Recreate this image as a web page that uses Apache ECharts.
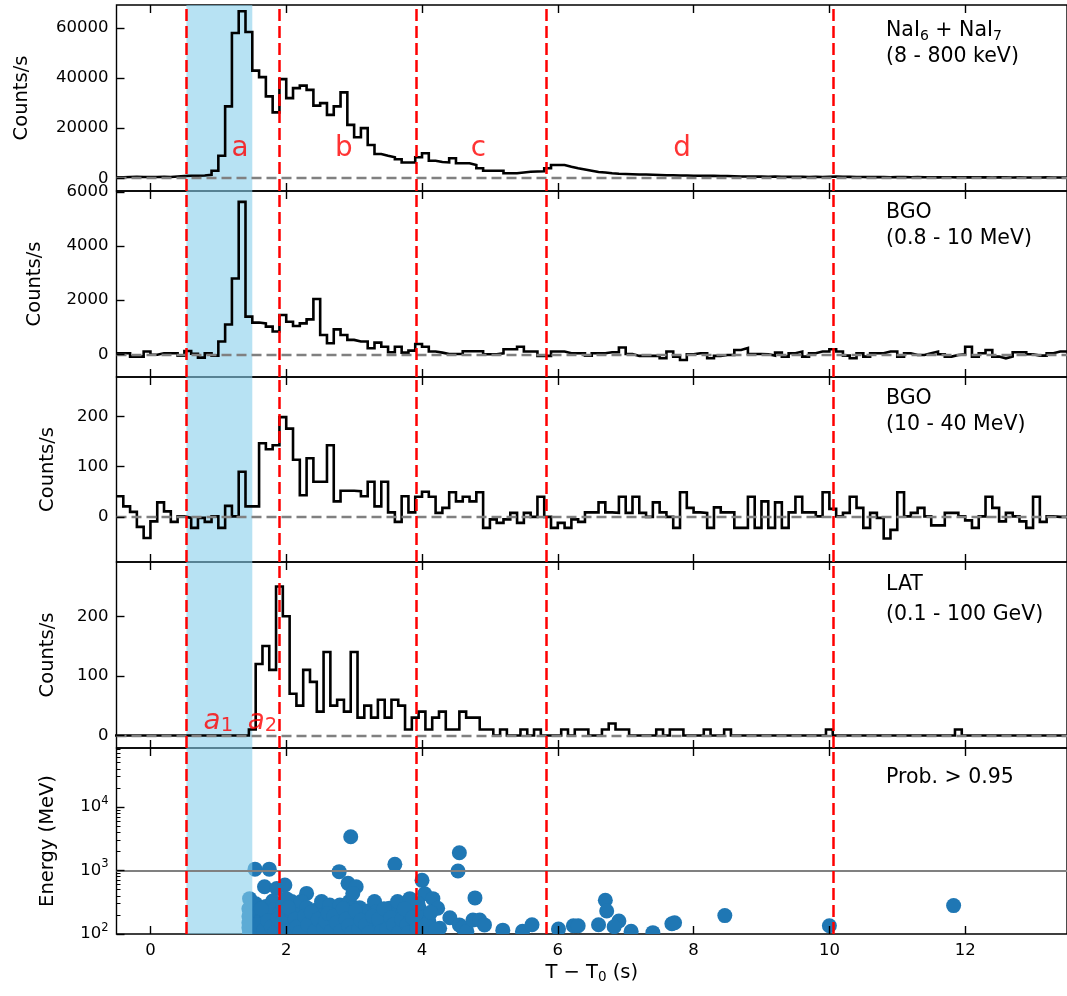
<!DOCTYPE html>
<html><head><meta charset="utf-8">
<script src="https://cdn.jsdelivr.net/npm/echarts@6/dist/echarts.min.js"></script>
<style>html,body{margin:0;padding:0;background:#fff}#c{width:1067px;height:996px}</style>
</head><body><div id="c"></div>
<script>
// ---------------- data ----------------
const BIN = 0.1;
const xTicks = [0, 2, 4, 6, 8, 10, 12];

const naiStart = -0.5;
const naiCounts = [
  400, 500, 600, 500, 500,
  500, 600, 500, 700, 900, 1000, 1000, 1100, 1400, 3000,
  9000, 28700, 58000, 66700, 58400, 43000, 40400, 32700, 26300, 39600,
  32000, 36000, 37000, 35300, 29000, 30000, 25300, 28700, 34300, 21300,
  16400, 20000, 13300, 9700, 9000, 8400, 7600, 6300, 6300, 8400,
  10000, 7000, 6500, 6300, 8000, 6000, 6000, 5300, 4000, 3000,
  3000, 3000, 2000, 2000, 2300, 2600, 2700, 2800, 4000, 5300,
  5300, 4600, 4000, 3500, 3000, 2500, 2300, 2000, 1800, 1700,
  1600, 1500, 1500, 1400, 1300, 1200, 1200, 1100, 1100, 1000,
  1000, 950, 950, 900, 900, 800, 700, 700, 650, 650,
  600, 650, 600, 550, 600, 550, 500, 550, 500, 600,
  700, 600, 550, 500, 500, 450, 500, 450, 400, 450,
  450, 400, 450, 400, 400, 350, 400, 400, 350, 400,
  350, 400, 350, 300, 350, 350, 300, 350, 300, 300,
  300, 350, 300, 300, 250
];

const bgoLowStart = -0.5;
const bgoLowCounts = [
  37, 37, -86, -86, 100,
  -20, 37, 37, 37, -50, 123, 20, -123, 37, -50,
  470, 1100, 2800, 5630, 1390, 1170, 1140, 1020, 840, 1450,
  1200, 1045, 1140, 1290, 2040, 713, 405, 920, 713, 530,
  470, 470, 220, 430, 280, 74, 280, 60, 135, 380,
  280, 100, 60, 12, 12, 12, 110, 110, 110, 0,
  0, 37, 185, 185, 280, 100, 100, -60, -60, 100,
  100, 37, 37, 37, -50, 37, 37, 74, 74, 250,
  12, -60, -60, -60, -60, -150, 100, -86, -210, 0,
  37, 37, -150, -60, -25, -25, 160, 230, 12, 12,
  0, -50, 60, -86, 37, 100, -86, 37, 100, 100,
  185, 100, -50, -150, 37, -86, 37, 37, 100, 100,
  -86, 37, -25, -25, 37, 100, 0, -86, -25, 0,
  280, -86, 37, 160, -86, -150, -86, 74, 74, 0,
  -50, -50, 37, 100, 100
];

const bgoHighStart = -0.5;
const bgoHighCounts = [
  41, 21, 10, -20, -42,
  -9, 29, 11, -10, 1, -2, -22, -2, -10, 1,
  -22, 22, 1, 90, 21, 21, 147, 135, 143, 199,
  176, 114, 43, 117, 70, 70, 143, 31, 52, 52,
  51, 41, 70, 21, 70, 9, -10, 41, 9, 40,
  50, 40, 8, 18, 49, 31, 40, 31, 49, -22,
  -5, -12, -5, 8, -12, 8, 0, 40, 0, -22,
  -12, -22, -5, -10, 9, 9, 29, 9, 8, 40,
  8, 40, 8, 0, 29, 9, 0, -22, 49, 18,
  9, 8, -22, 19, 9, 9, -22, -22, 40, -22,
  31, -22, 29, -22, 9, 40, 9, 9, 1, 49,
  16, 1, 8, 40, 18, -22, 8, -2, -43, -26,
  49, 1, 8, 18, 1, -17, -17, 8, 8, 1,
  -7, -22, 1, 40, 18, -9, 8, 1, -9, -22,
  40, -10, 1, 0, 0
];

const latStart = -0.55;
const latCounts = [
  0, 0, 0, 0, 0, 0, 0, 0, 0, 0,
  0, 0, 0, 0, 0, 0, 0, 0, 0, 0,
  10,
  120, 150, 110, 250, 200, 70, 50, 110, 90, 40,
  140, 50, 60, 40, 140, 30, 50, 30, 60, 30,
  60, 50, 10, 30, 40, 10, 30, 40, 10, 10,
  40, 30, 30, 10, 10, 0, 10, 0, 0, 10,
  0, 10, 0, 0, 0, 10, 0, 10, 10, 0,
  0, 10, 20, 10, 10, 0, 0, 0, 0, 10,
  0, 10, 10, 0, 0, 0, 10, 0, 0, 10,
  0, 0, 0, 0, 0, 0, 0, 0, 0, 0,
  0, 0, 0, 0, 10, 0, 0, 0, 0, 0,
  0, 0, 0, 0, 0, 0, 0, 0, 0, 0,
  0, 0, 0, 10, 0, 0, 0, 0, 0, 0,
  0, 0, 0, 0, 0, 0, 0, 0, 0, 0
];

const photonTimes = [
  1.46, 1.45, 1.45, 1.45, 1.45, 1.46,
  1.54, 1.75, 2.78, 2.95, 3.60, 4.55, 4.53,
  1.68, 1.86, 1.98, 2.30, 2.91, 3.03, 4.00, 4.78, 4.04,
  1.55, 1.60, 1.62, 1.65, 1.70, 1.72, 1.75, 1.80, 1.82, 1.85, 1.90, 1.92, 1.95, 2.00,
  2.02, 2.05, 2.08, 2.10, 2.12, 2.18, 2.22, 2.25, 2.30, 2.35, 2.40, 2.45, 2.50, 2.52,
  2.56, 2.60, 2.64, 2.68, 2.72, 2.76, 2.79, 2.82, 2.86, 2.90, 2.93, 2.96, 2.98, 3.00,
  3.05, 3.08, 3.12, 3.15, 3.20, 3.25, 3.30, 3.33, 3.38, 3.42, 3.46, 3.52, 3.56, 3.60,
  3.62, 3.64, 3.68, 3.72, 3.76, 3.82, 3.84, 3.88, 3.89, 3.96, 3.96, 4.02, 4.10, 4.16,
  4.23, 4.26, 4.41, 4.55, 4.60, 4.66, 4.75, 4.85, 4.92,
  1.52, 1.58, 1.63, 1.67, 1.73, 1.78, 1.83, 1.88, 1.93, 1.97, 2.03, 2.07, 2.13, 2.16,
  2.20, 2.27, 2.32, 2.37, 2.42, 2.47, 2.55, 2.58, 2.62, 2.66, 2.70, 2.74, 2.80, 2.84,
  2.88, 2.92, 2.97, 3.02, 3.07, 3.10, 3.17, 3.22, 3.27, 3.36, 3.40, 3.44, 3.48, 3.54,
  3.58, 3.66, 3.70, 3.74, 3.78, 3.80, 3.86, 3.92, 3.94, 4.06, 4.13, 4.20,
  5.19, 5.48, 5.62, 6.01, 6.23, 6.30, 6.70, 6.72, 6.90, 6.60, 6.83, 7.08, 7.40, 7.68,
  7.72, 8.46, 10.00, 11.83
];
const photonEnergies = [
  360, 250, 190, 150, 125, 105,
  1050, 1050, 960, 3400, 1250, 1900, 980,
  555, 520, 590, 436, 628, 555, 700, 370, 430,
  300, 220, 160, 130, 270, 190, 110, 330, 240, 150, 210, 120, 280, 360,
  180, 140, 325, 230, 110, 200, 325, 150, 260, 120, 190, 240, 140, 325,
  200, 110, 286, 170, 130, 230, 286, 150, 200, 120, 325, 250, 436, 180,
  140, 260, 200, 115, 230, 160, 325, 224, 130, 190, 150, 254, 110, 175,
  199, 325, 140, 210, 120, 360, 224, 150, 139, 254, 199, 120, 160, 360,
  254, 123, 180, 139, 125, 110, 166, 166, 139,
  110, 140, 250, 115, 160, 130, 105, 175, 150, 110, 260, 120, 170, 130,
  105, 190, 140, 220, 110, 170, 125, 160, 210, 110, 190, 150, 110, 250,
  170, 135, 105, 230, 120, 165, 140, 105, 190, 170, 110, 250, 120, 180,
  140, 105, 170, 250, 140, 105, 180, 120, 300, 140, 220, 115,
  115, 110, 140, 120, 135, 135, 340, 230, 160, 140, 130, 110, 105, 145,
  150, 195, 135, 280
];

const boundaries = [0.53, 1.90, 3.91, 5.83, 10.06];
const bandRange = [0.53, 1.50];
const periodNames = ['a', 'b', 'c', 'd'];
const periodTimes = [1.32, 2.85, 4.83, 7.83];

// ---------------- layout / styles ----------------
const FONT = 'DejaVu Sans';
const tops = [5, 191, 377, 562, 748];
const heights = [186, 186, 185, 186, 186];
const yRanges = [[-5100, 69200], [-840, 6030], [-90, 279], [-21, 291], [100, 85000]];
const yTicks = [[0, 20000, 40000, 60000], [0, 2000, 4000, 6000], [0, 100, 200], [0, 100, 200], [100, 1000, 10000]];
const yNameGaps = [85, 72, 59, 59, 59];
const minorLog = [200,300,400,500,600,700,800,900,2000,3000,4000,5000,6000,7000,8000,9000,20000,30000,40000,50000,60000,70000,80000];

function stepData(start, counts) {
  const d = counts.map((v, i) => [start + i * BIN, v]);
  d.push([start + counts.length * BIN, counts[counts.length - 1]]);
  return d;
}

const grids = [], xAxes = [], yAxes = [], series = [];
const tickStyle = { color: '#000', width: 1.4 };

for (let i = 0; i < 5; i++) {
  grids.push({ left: 116.5, width: 951, top: tops[i], height: heights[i], show: true,
    borderColor: '#000', borderWidth: 1.4, backgroundColor: 'transparent' });
  const bottom = {
    gridIndex: i, type: 'value', min: -0.5, max: 13.5, position: 'bottom', z: 10,
    axisLine: { show: false, onZero: false }, splitLine: { show: false },
    axisTick: { show: true, inside: true, length: 8, lineStyle: tickStyle, customValues: xTicks },
    axisLabel: { show: i === 4, customValues: xTicks, fontSize: 16.5, fontFamily: FONT, color: '#000', margin: 8,
      formatter: v => String(v) }
  };
  if (i === 4) {
    bottom.name = '{n|T − T}{s|0}{n| (s)}';
    bottom.nameLocation = 'middle';
    bottom.nameGap = 28;
    bottom.nameTextStyle = { color: '#000', fontFamily: FONT, fontSize: 19.5,
      rich: { n: { fontSize: 19.5, fontFamily: FONT, color: '#000', lineHeight: 22 },
              s: { fontSize: 13.5, fontFamily: FONT, color: '#000', verticalAlign: 'bottom', lineHeight: 14 } } };
  }
  xAxes.push(bottom);
  xAxes.push({
    gridIndex: i, type: 'value', min: -0.5, max: 13.5, position: 'top', z: 10,
    axisLine: { show: false, onZero: false }, splitLine: { show: false },
    axisTick: { show: true, inside: true, length: 8, lineStyle: tickStyle, customValues: xTicks },
    axisLabel: { show: false, customValues: xTicks }
  });
  const isLog = i === 4;
  const y = {
    gridIndex: i, type: isLog ? 'log' : 'value', min: yRanges[i][0], max: yRanges[i][1], position: 'left', z: 10,
    axisLine: { show: false, onZero: false }, splitLine: { show: false },
    axisTick: { show: true, inside: true, length: 8, lineStyle: tickStyle, customValues: yTicks[i] },
    axisLabel: { show: true, customValues: yTicks[i], fontSize: 16.5, fontFamily: FONT, color: '#000', margin: 8,
      formatter: v => String(v) },
    name: isLog ? 'Energy (MeV)' : 'Counts/s', nameLocation: 'middle', nameGap: yNameGaps[i],
    nameTextStyle: { fontSize: 19.5, fontFamily: FONT, color: '#000' }
  };
  if (isLog) {
    y.logBase = 10;
    y.axisLabel.formatter = v => '{b|10}{sup|' + Math.round(Math.log10(v)) + '}';
    y.axisLabel.rich = { b: { fontSize: 16.5, fontFamily: FONT, color: '#000', lineHeight: 24 },
                         sup: { fontSize: 11.5, fontFamily: FONT, color: '#000', verticalAlign: 'top', lineHeight: 14 } };
  }
  yAxes.push(y);
}
// minor log ticks
yAxes.push({
  gridIndex: 4, type: 'log', logBase: 10, min: 100, max: 85000, position: 'left', offset: 0, z: 10,
  axisLine: { show: false, onZero: false }, splitLine: { show: false },
  axisTick: { show: true, inside: true, length: 4, lineStyle: { color: '#000', width: 1 }, customValues: minorLog },
  axisLabel: { show: false, customValues: minorLog }
});

const redLines = boundaries.map(v => ({ xAxis: v, lineStyle: { color: '#ff0000', type: [12, 5], width: 2.5 } }));
const band = { itemStyle: { color: 'rgba(135,206,235,0.6)' }, data: [[{ xAxis: bandRange[0] }, { xAxis: bandRange[1] }]] };

const hist = [
  [naiStart, naiCounts], [bgoLowStart, bgoLowCounts], [bgoHighStart, bgoHighCounts], [latStart, latCounts]
];
hist.forEach((h, i) => {
  series.push({
    type: 'line', xAxisIndex: 2 * i, yAxisIndex: i, data: stepData(h[0], h[1]), step: 'end',
    symbol: 'none', silent: true, animation: false, z: 3,
    lineStyle: { color: '#000', width: 2.6, join: 'miter' },
    markArea: Object.assign({ silent: true, z: 1 }, band),
    markLine: { silent: true, symbol: ['none', 'none'], label: { show: false }, animation: false,
      data: [{ yAxis: 0, lineStyle: { color: '#808080', type: [10, 5], width: 2.4 } }].concat(redLines) }
  });
});

// photon scatter (custom series so the markers are clipped by the axes)
series.push({
  type: 'custom', xAxisIndex: 8, yAxisIndex: 4, clip: true, silent: true, animation: false, z: 2,
  data: photonTimes.map((t, i) => [t, photonEnergies[i]]),
  encode: { x: 0, y: 1 },
  renderItem: (params, api) => {
    const p = api.coord([api.value(0), api.value(1)]);
    return { type: 'circle', shape: { cx: p[0], cy: p[1], r: 7.5 }, style: { fill: '#1f77b4' } };
  }
});
series.push({
  type: 'line', xAxisIndex: 8, yAxisIndex: 4, data: [], silent: true, animation: false, z: 4,
  markArea: Object.assign({ silent: true, z: 3 }, band),
  markLine: { silent: true, symbol: ['none', 'none'], label: { show: false }, animation: false, z: 5,
    data: [{ yAxis: 1000, lineStyle: { color: '#808080', type: 'solid', width: 2.2 } }].concat(redLines) }
});

// period letters a-d
series.push({
  type: 'scatter', xAxisIndex: 0, yAxisIndex: 0, symbolSize: 0, silent: true, animation: false, z: 6,
  data: periodNames.map((n, i) => ({ name: n, value: [periodTimes[i], 11600] })),
  label: { show: true, position: 'inside', formatter: p => p.name, color: '#ff0000', fontSize: 27.8, fontFamily: FONT }
});
// a1, a2
series.push({
  type: 'scatter', xAxisIndex: 6, yAxisIndex: 3, symbolSize: 0, silent: true, animation: false, z: 6,
  data: [{ name: '1', value: [1.0, 23] }, { name: '2', value: [1.65, 23] }],
  label: { show: true, position: 'inside', formatter: p => '{i|a}{s|' + p.name + '}',
    rich: { i: { fontStyle: 'italic', fontSize: 27.8, fontFamily: FONT, color: '#ff0000', lineHeight: 28 },
            s: { fontSize: 19.5, fontFamily: FONT, color: '#ff0000', verticalAlign: 'bottom', lineHeight: 20 } } }
});

const labelRich = {
  n: { fontSize: 20.5, fontFamily: FONT, fill: '#000', lineHeight: 24 },
  s: { fontSize: 14, fontFamily: FONT, fill: '#000', verticalAlign: 'bottom', lineHeight: 16 }
};
function panelText(x, y, text) {
  return { type: 'text', x: x, y: y, silent: true, z: 100,
    style: { text: text, fill: '#000', font: '20.5px "DejaVu Sans"', textVerticalAlign: 'middle', rich: labelRich } };
}
const graphics = [
  panelText(886, 31, '{n|NaI}{s|6}{n| + NaI}{s|7}'),
  panelText(886, 57, '(8 - 800 keV)'),
  panelText(886, 213, 'BGO'),
  panelText(886, 239, '(0.8 - 10 MeV)'),
  panelText(886, 399, 'BGO'),
  panelText(886, 425, '(10 - 40 MeV)'),
  panelText(886, 585, 'LAT'),
  panelText(886, 615, '(0.1 - 100 GeV)'),
  panelText(886, 778, 'Prob. > 0.95')
];

const chart = echarts.init(document.getElementById('c'), null, { renderer: 'canvas' });
chart.setOption({
  animation: false,
  backgroundColor: '#fff',
  grid: grids, xAxis: xAxes, yAxis: yAxes, series: series, graphic: graphics
});
</script></body></html>
